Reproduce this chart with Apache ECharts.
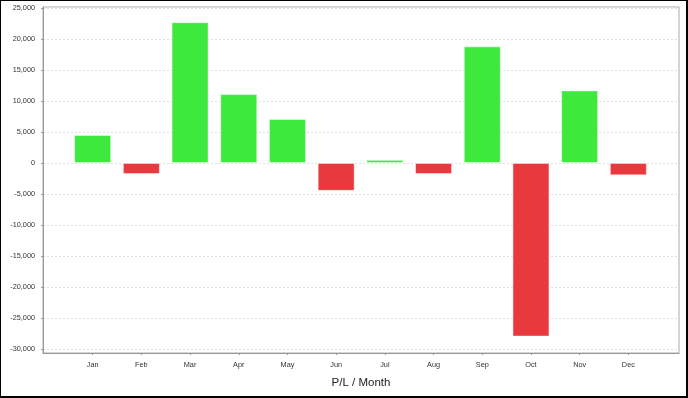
<!DOCTYPE html>
<html>
<head>
<meta charset="utf-8">
<script src="https://cdn.jsdelivr.net/npm/echarts@6/dist/echarts.min.js"></script>
<style>
  html, body { margin: 0; padding: 0; background: #fff; }
  #chart {
    width: 688px;
    height: 398px;
    box-sizing: border-box;
    border-style: solid;
    border-color: #000;
    border-width: 1px 2px 2px 1px;
  }
</style>
</head>
<body>
<div id="chart"></div>
<script>
// 月份与每月盈亏
const months = ['Jan', 'Feb', 'Mar', 'Apr', 'May', 'Jun', 'Jul', 'Aug', 'Sep', 'Oct', 'Nov', 'Dec']
const profit = [4500, -1800, 22700, 11100, 7100, -4500, 500, -1800, 18800, -28000, 11700, -2000]

const GREEN = '#3de93d'
const RED = '#e8393e'

const chart = echarts.init(document.getElementById('chart'))

const labelFont = { fontFamily: 'Liberation Sans, Arial, sans-serif', fontSize: 7.3, color: '#333' }

const option = {
  animation: false,
  grid: {
    left: 42, right: 7, top: 6, bottom: 43,
    show: true,
    borderColor: '#aaa',
    borderWidth: 1
  },
  xAxis: {
    type: 'value',
    min: -1.02,
    max: 12.04,
    name: 'P/L / Month',
    nameLocation: 'middle',
    nameGap: 24,
    nameTextStyle: { fontFamily: 'Liberation Sans, Arial, sans-serif', fontSize: 11.5, color: '#222' },
    axisLine: { onZero: false, lineStyle: { color: '#999' } },
    axisTick: {
      show: true,
      length: 2,
      customValues: months.map((m, i) => i),
      lineStyle: { color: '#999' }
    },
    axisLabel: {
      ...labelFont,
      margin: 8,
      customValues: months.map((m, i) => i),
      formatter: v => months[Math.round(v)] || ''
    },
    splitLine: { show: false }
  },
  yAxis: {
    type: 'value',
    min: -30650,
    max: 25150,
    splitNumber: 11,
    axisLine: { show: true, onZero: false, lineStyle: { color: '#999' } },
    axisTick: { show: true, length: 2, lineStyle: { color: '#999' } },
    axisLabel: {
      ...labelFont,
      margin: 8,
      showMinLabel: false,
      showMaxLabel: false,
      formatter: v => v.toLocaleString('en-US')
    },
    splitLine: { lineStyle: { color: '#e0e0e0', type: [2, 2] } }
  },
  series: [
    {
      type: 'bar',
      barWidth: 37,
      data: profit.map((v, i) => ({
        value: [i, v],
        itemStyle: { color: v >= 0 ? GREEN : RED }
      })),
      itemStyle: {
        borderColor: 'rgba(255,255,255,0.45)',
        borderWidth: 1
      }
    }
  ]
}

chart.setOption(option)
</script>
</body>
</html>
